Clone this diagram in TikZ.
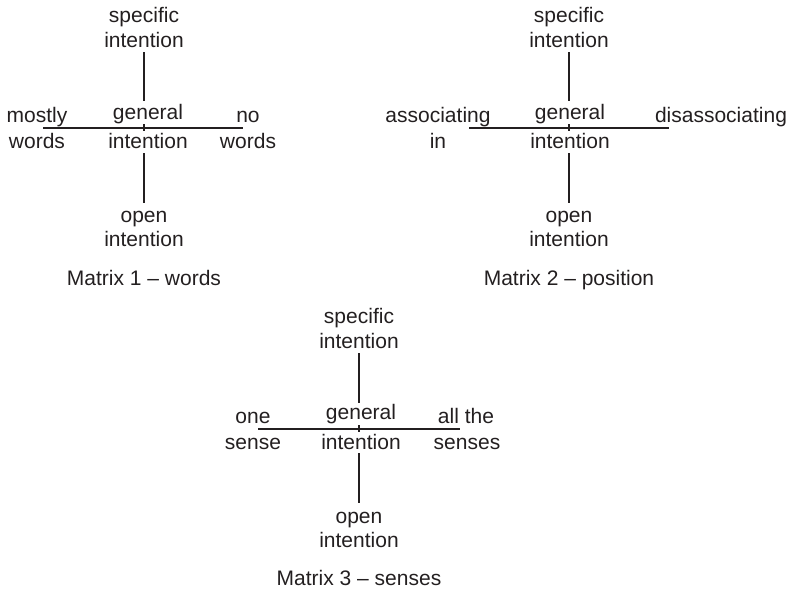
\documentclass[tikz,border=0pt]{standalone}
\usepackage{fontspec}
\setmainfont{Liberation Sans}
\definecolor{ink}{RGB}{35,31,32}
\begin{document}
\begin{tikzpicture}[x=1pt,y=-1pt,
  lbl/.style={anchor=base,inner sep=0pt,text=ink,font=\fontsize{21}{25}\selectfont},
  axis/.style={draw=ink,line width=1.1pt}]
\useasboundingbox (0,0) rectangle (790,592);
% ---------- Matrix 1 ----------
\begin{scope}[shift={(144,128)}]
\coordinate (a-t1) at (0,-76); \coordinate (a-t2) at (0,-27);
\coordinate (a-b1) at (0,25);  \coordinate (a-b2) at (0,75);
\coordinate (a-l) at (-101,0); \coordinate (a-r) at (99,0);
\coordinate (a-k1) at (0,-4);  \coordinate (a-k2) at (0,3);
\draw[axis] (a-t1) -- (a-t2);
\draw[axis] (a-b1) -- (a-b2);
\draw[axis] (a-l) -- (a-r);
\draw[axis] (a-k1) -- (a-k2);
\node[lbl] (a-s1) at (0,-106) {specific};
\node[lbl] (a-s2) at (0,-81) {intention};
\node[lbl] (a-g1) at (4,-9) {general};
\node[lbl] (a-g2) at (4,20) {intention};
\node[lbl] (a-o1) at (0,94) {open};
\node[lbl] (a-o2) at (0,118) {intention};
\node[lbl] (a-l1) at (-107,-6) {mostly};
\node[lbl] (a-l2) at (-107,20) {words};
\node[lbl] (a-r1) at (104,-6) {no};
\node[lbl] (a-r2) at (104,20) {words};
\node[lbl] (a-cap) at (0,157) {Matrix 1 -- words};
\end{scope}
% ---------- Matrix 2 ----------
\begin{scope}[shift={(569,128)}]
\coordinate (b-t1) at (0,-76); \coordinate (b-t2) at (0,-27);
\coordinate (b-b1) at (0,25);  \coordinate (b-b2) at (0,75);
\coordinate (b-l) at (-100,0); \coordinate (b-r) at (100,0);
\coordinate (b-k1) at (0,-4);  \coordinate (b-k2) at (0,3);
\draw[axis] (b-t1) -- (b-t2);
\draw[axis] (b-b1) -- (b-b2);
\draw[axis] (b-l) -- (b-r);
\draw[axis] (b-k1) -- (b-k2);
\node[lbl] (b-s1) at (0,-106) {specific};
\node[lbl] (b-s2) at (0,-81) {intention};
\node[lbl] (b-g1) at (1,-9) {general};
\node[lbl] (b-g2) at (1,20) {intention};
\node[lbl] (b-o1) at (0,94) {open};
\node[lbl] (b-o2) at (0,118) {intention};
\node[lbl] (b-l1) at (-131,-6) {associating};
\node[lbl] (b-l2) at (-131,20) {in};
\node[lbl] (b-r1) at (152,-6) {disassociating};
\node[lbl] (b-cap) at (0,157) {Matrix 2 -- position};
\end{scope}
% ---------- Matrix 3 ----------
\begin{scope}[shift={(359,429)}]
\coordinate (c-t1) at (0,-76); \coordinate (c-t2) at (0,-26);
\coordinate (c-b1) at (0,24);  \coordinate (c-b2) at (0,74);
\coordinate (c-l) at (-101,0); \coordinate (c-r) at (101,0);
\coordinate (c-k1) at (0,-4);  \coordinate (c-k2) at (0,3);
\draw[axis] (c-t1) -- (c-t2);
\draw[axis] (c-b1) -- (c-b2);
\draw[axis] (c-l) -- (c-r);
\draw[axis] (c-k1) -- (c-k2);
\node[lbl] (c-s1) at (0,-106) {specific};
\node[lbl] (c-s2) at (0,-81) {intention};
\node[lbl] (c-g1) at (2,-10) {general};
\node[lbl] (c-g2) at (2,20) {intention};
\node[lbl] (c-o1) at (0,94) {open};
\node[lbl] (c-o2) at (0,118) {intention};
\node[lbl] (c-l1) at (-106,-6) {one};
\node[lbl] (c-l2) at (-106,20) {sense};
\node[lbl] (c-r1) at (107,-6) {all the};
\node[lbl] (c-r2) at (108,20) {senses};
\node[lbl] (c-cap) at (0,156) {Matrix 3 -- senses};
\end{scope}
\end{tikzpicture}
\end{document}
